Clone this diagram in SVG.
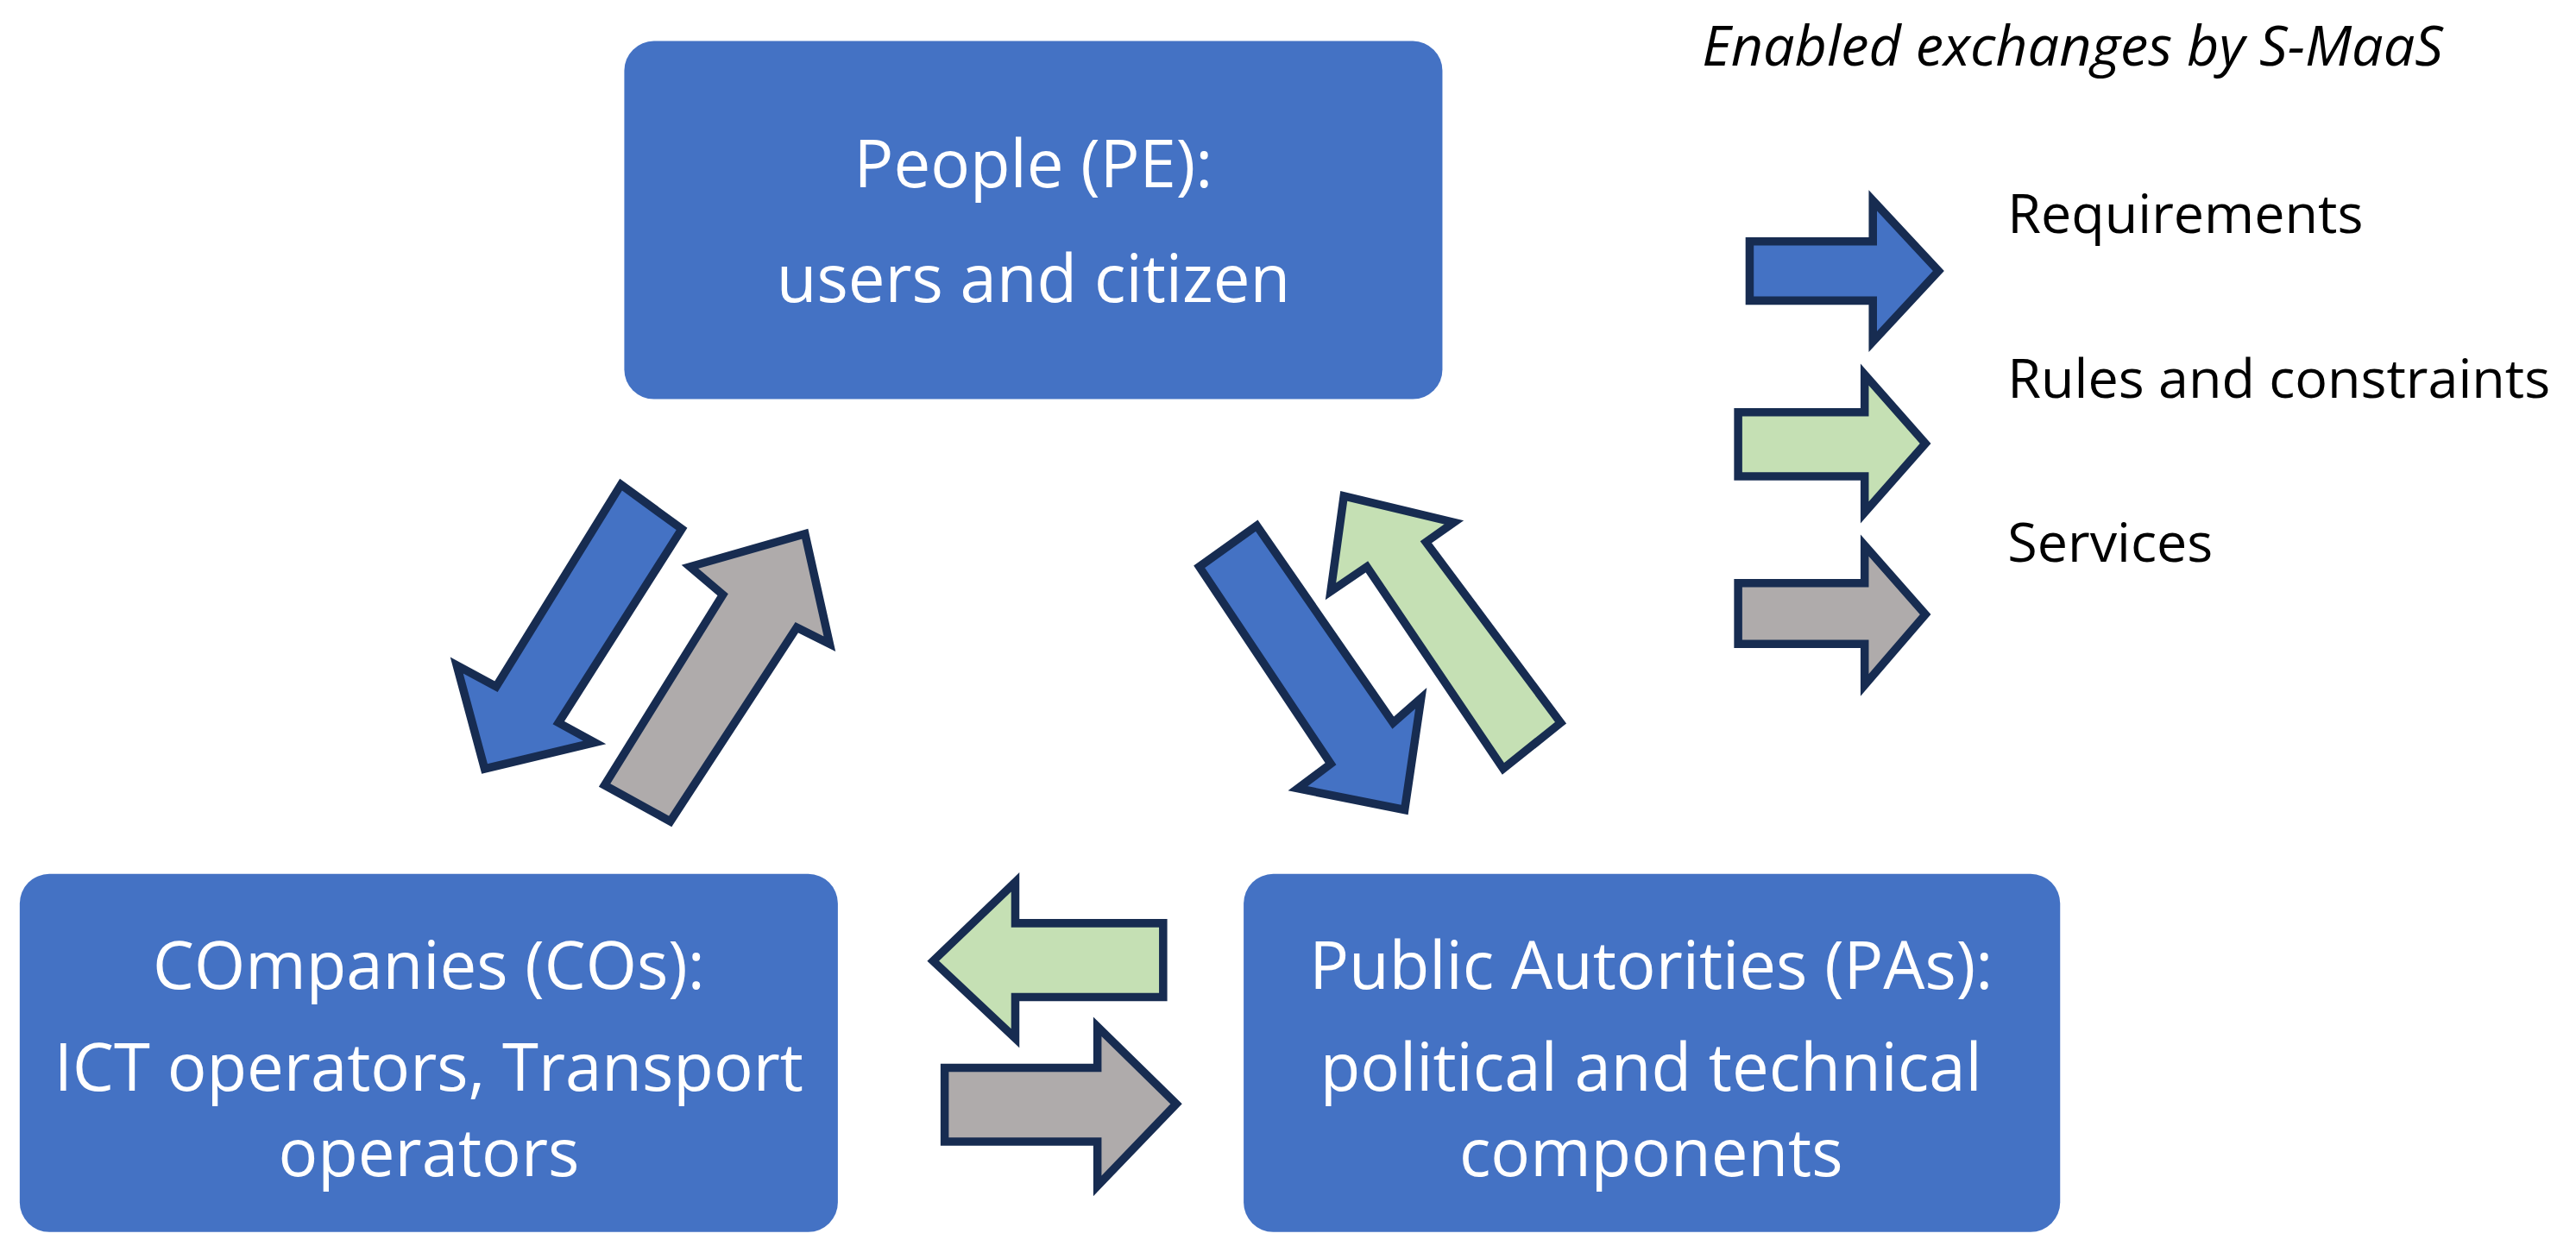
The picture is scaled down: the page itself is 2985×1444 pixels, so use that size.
<svg xmlns="http://www.w3.org/2000/svg" width="2985" height="1444" viewBox="0 0 2985 1444">
<style>
.box{fill:#4472c4}
.bt{font-family:"Open Sans","Noto Sans",sans-serif;font-size:40px;fill:#fff;text-anchor:middle}
.lt{font-family:"Open Sans","Noto Sans",sans-serif;font-size:33px;fill:#000}
.ar{stroke:#172c51;stroke-width:5;stroke-linejoin:miter}
.b{fill:#4472c4}.g{fill:#c5e0b4}.s{fill:#afabab}
</style>
<rect width="2985" height="1444" fill="#fff"/>
<g transform="scale(1.9037)">
<g id="people"><rect class="box" x="380" y="25" width="498" height="218" rx="18"/>
<text class="bt" x="629" y="114">People (PE):</text>
<text class="bt" x="629" y="184">users and citizen</text></g>
<g id="companies"><rect class="box" x="12" y="532" width="498" height="218" rx="18"/>
<text class="bt" x="261" y="602">COmpanies (COs):</text>
<text class="bt" x="261" y="664">ICT operators, Transport</text>
<text class="bt" x="261" y="716">operators</text></g>
<g id="authorities"><rect class="box" x="757" y="532" width="497" height="218" rx="18"/>
<text class="bt" x="1005" y="602">Public Autorities (PAs):</text>
<text class="bt" x="1005" y="664">political and technical</text>
<text class="bt" x="1005" y="716">components</text></g>
<g id="legend">
<text x="1036" y="40" class="lt" style="font-style:italic;font-size:34px">Enabled exchanges by S-MaaS</text>
<polygon class="ar b" points="1065,147 1140,147 1140,122 1180,165 1140,208 1140,183 1065,183"/>
<polygon class="ar g" points="1058,251 1135,251 1135,228 1172,270 1135,312 1135,290 1058,290"/>
<polygon class="ar s" points="1058,355 1135,355 1135,332 1172,374 1135,417 1135,392 1058,392"/>
<text x="1222" y="142" class="lt">Requirements</text>
<text x="1222" y="242" class="lt">Rules and constraints</text>
<text x="1222" y="342" class="lt">Services</text>
</g>
<g id="connectors">
<polygon class="ar b" points="378,295 415,322 340,440 362,452 295,468 278,405 302,418"/>
<polygon class="ar s" points="368,478 440,362 420,345 490,325 505,392 485,382 408,500"/>
<polygon class="ar b" points="765,320 848,440 865,425 855,493 790,480 810,465 730,345"/>
<polygon class="ar g" points="950,440 915,468 832,345 810,360 818,302 885,318 868,330"/>
<polygon class="ar g" points="708,562 618,562 618,537 568,585 618,632 618,607 708,607"/>
<polygon class="ar s" points="575,650 668,650 668,625 716,672 668,722 668,695 575,695"/>
</g>
</g>
</svg>
